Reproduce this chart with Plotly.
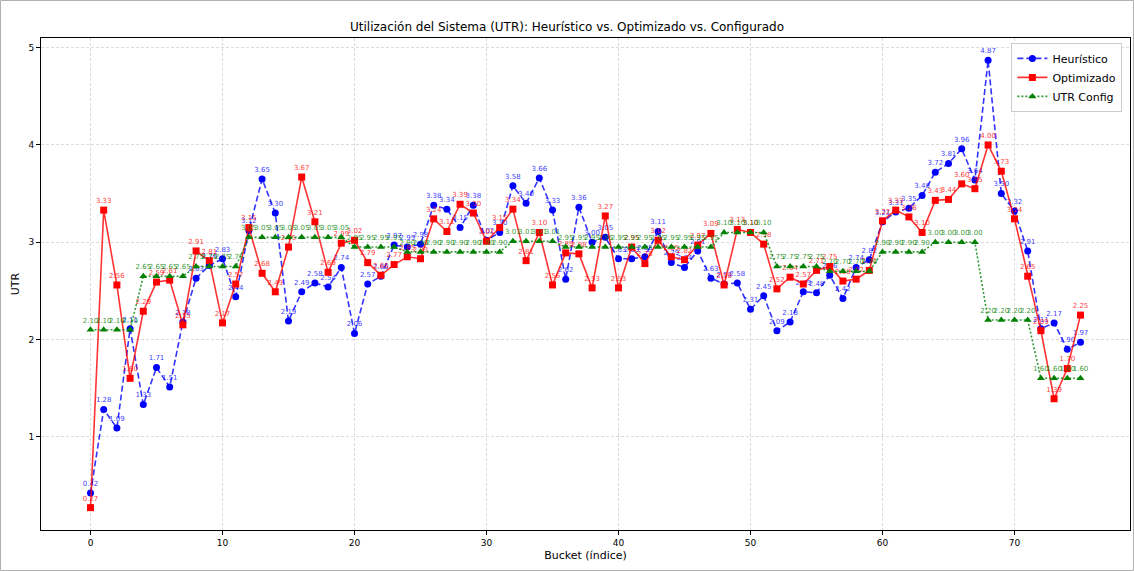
import plotly.graph_objects as go

buckets = list(range(76))

heuristico = [
    0.42, 1.28, 1.09, 2.11, 1.33, 1.71, 1.51, 2.18, 2.63, 2.76,
    2.83, 2.44, 3.12, 3.65, 3.30, 2.19, 2.49, 2.58, 2.54, 2.74,
    2.06, 2.57, 2.65, 2.97, 2.95, 2.98, 3.38, 3.34, 3.15, 3.38,
    3.02, 3.10, 3.58, 3.40, 3.66, 3.33, 2.62, 3.36, 3.00, 3.05,
    2.83, 2.83, 2.85, 3.11, 2.79, 2.74, 2.91, 2.63, 2.57, 2.58,
    2.31, 2.45, 2.09, 2.18, 2.49, 2.48, 2.66, 2.42, 2.74, 2.82,
    3.21, 3.31, 3.35, 3.48, 3.72, 3.81, 3.96, 3.64, 4.87, 3.50,
    3.32, 2.91, 2.11, 2.17, 1.90, 1.97,
]

optimizado = [
    0.27, 3.33, 2.56, 1.60, 2.29, 2.59, 2.61, 2.15, 2.91, 2.81,
    2.17, 2.57, 3.15, 2.68, 2.49, 2.95, 3.67, 3.21, 2.69, 2.99,
    3.02, 2.79, 2.66, 2.77, 2.85, 2.83, 3.24, 3.11, 3.39, 3.30,
    3.01, 3.15, 3.34, 2.81, 3.10, 2.56, 2.89, 2.88, 2.53, 3.27,
    2.53, 2.95, 2.78, 3.02, 2.85, 2.82, 2.97, 3.09, 2.56, 3.13,
    3.10, 2.98, 2.52, 2.64, 2.57, 2.71, 2.75, 2.60, 2.62, 2.71,
    3.22, 3.33, 3.26, 3.10, 3.43, 3.44, 3.60, 3.55, 4.00, 3.73,
    3.24, 2.65, 2.09, 1.39, 1.70, 2.25,
]

utr_config = (
    [2.10] * 4 + [2.65] * 4 + [2.75] * 4 + [3.05] * 8 + [2.95] * 4
    + [2.90] * 8 + [3.01] * 4 + [2.95] * 12 + [3.10] * 4 + [2.75] * 4
    + [2.70] * 4 + [2.90] * 4 + [3.00] * 4 + [2.20] * 4 + [1.60] * 4
)

FONT = "DejaVu Sans"

series = [
    ("Heurístico", heuristico, "#0000ff", "rgba(0,0,255,0.8)", "6px,3px", "circle"),
    ("Optimizado", optimizado, "#ff0000", "rgba(255,0,0,0.8)", "solid", "square"),
    ("UTR Config", utr_config, "#008000", "rgba(0,128,0,0.8)", "2px,2px", "triangle-up"),
]

fig = go.Figure()
for name, values, color, line_color, dash, symbol in series:
    fig.add_trace(go.Scatter(
        x=buckets, y=values, name=name,
        mode="lines+markers+text",
        line=dict(color=line_color, width=1.6, dash=dash),
        marker=dict(color=color, symbol=symbol, size=7),
        text=[f"{v:.2f}" for v in values],
        textposition="top center",
        textfont=dict(family=FONT, size=7, color=line_color),
        cliponaxis=False,
    ))

axis_common = dict(
    showline=True, linecolor="black", linewidth=1, mirror=True,
    ticks="outside", ticklen=4, tickcolor="black",
    tickfont=dict(family=FONT, size=9, color="black"),
    showgrid=True, gridcolor="rgba(0,0,0,0.14)", griddash="3px,2px", gridwidth=1,
    zeroline=False,
)

fig.update_xaxes(range=[-3.75, 78.75], tickvals=list(range(0, 80, 10)),
                 title=dict(text="Bucket (índice)", font=dict(family=FONT, size=11, color="black"), standoff=4),
                 **axis_common)
fig.update_yaxes(range=[0.04, 5.10], tickvals=[1, 2, 3, 4, 5],
                 title=dict(text="UTR", font=dict(family=FONT, size=11, color="black"), standoff=6),
                 **axis_common)

# thin frame around the whole figure
fig.add_shape(type="rect", xref="paper", yref="paper",
              x0=-41 / 1089 + 0.0005, x1=1 + 4 / 1089 - 0.0005,
              y0=-41 / 492 + 0.001, y1=1 + 38 / 492 - 0.001,
              line=dict(color="#b0b0b0", width=1), layer="below")

fig.update_layout(
    width=1134, height=571,
    margin=dict(l=41, r=4, t=38, b=41),
    paper_bgcolor="white", plot_bgcolor="white",
    font=dict(family=FONT, color="black"),
    title=dict(text="Utilización del Sistema (UTR): Heurístico vs. Optimizado vs. Configurado",
               x=0.5, xanchor="center", y=1 - 27 / 571, yanchor="middle",
               font=dict(family=FONT, size=12, color="black")),
    showlegend=True,
    legend=dict(x=0.993, y=0.99, xanchor="right", yanchor="top",
                bgcolor="rgba(255,255,255,0.85)", bordercolor="#cccccc", borderwidth=1,
                font=dict(family=FONT, size=11, color="black"), tracegroupgap=2),
)

fig.write_html("out.html")
